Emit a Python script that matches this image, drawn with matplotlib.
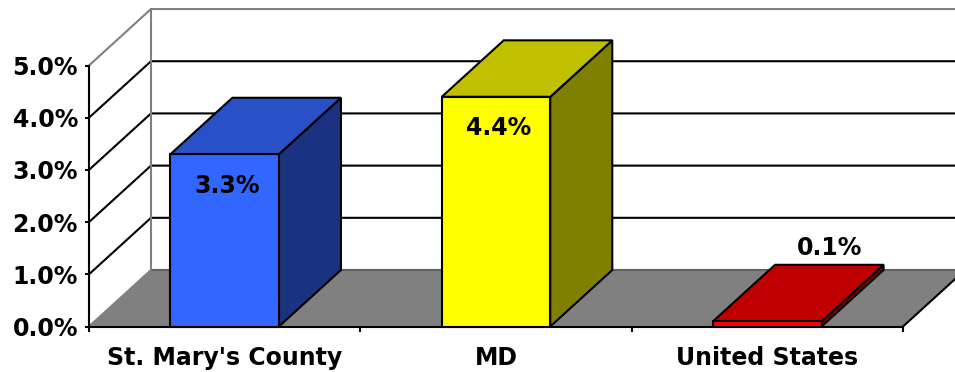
import matplotlib
matplotlib.use("Agg")
import matplotlib.pyplot as plt
from matplotlib.patches import Polygon

categories = ["St. Mary's County", "MD", "United States"]
values = [3.3, 4.4, 0.1]
value_labels = ["3.3%", "4.4%", "0.1%"]
y_ticks = [0, 1, 2, 3, 4, 5]

front_colors = ['#3366FF', '#FFFF00', '#FF0000']
top_colors = ['#2A50C8', '#C0C000', '#C00000']
side_colors = ['#1A3380', '#808000', '#800000']

# depth of the 3-D box, in category units (x) and percent units (y)
DX, DY = 0.2285, 1.082
HALF = 0.2

plt.rcParams['font.family'] = 'DejaVu Sans'
plt.rcParams['font.weight'] = 'bold'

fig = plt.figure(figsize=(9.55, 3.72), dpi=100)
ax = fig.add_axes([89 / 955, 45.5 / 372, 814 / 955, 261 / 372])
ax.set_xlim(0, len(categories))
ax.set_ylim(0, 5)
ax.patch.set_visible(False)

n = len(categories)

# floor
ax.add_patch(Polygon([(0, 0), (n, 0), (n + DX, DY), (DX, DY)], closed=True,
                     facecolor='#808080', edgecolor='none', zorder=0.5, clip_on=False))
ax.plot([DX, n + DX], [DY, DY], color='#606060', lw=1.5, zorder=0.6, clip_on=False)
ax.plot([0, DX], [0, DY], color='#808080', lw=1.5, zorder=0.6, clip_on=False)
ax.plot([n, n + DX], [0, DY], color='black', lw=1.5, zorder=0.6, clip_on=False)

# gridlines on side and back walls
for k in y_ticks[1:-1]:
    ax.plot([0, DX, n + DX], [k, k + DY, k + DY], color='black', lw=1.5,
            zorder=0.7, clip_on=False)
top = y_ticks[-1]
ax.plot([0, DX, n + DX], [top, top + DY, top + DY], color='#808080', lw=1.5,
        zorder=0.7, clip_on=False)
ax.plot([DX, DX], [DY, top + DY], color='#808080', lw=1.5, zorder=0.7, clip_on=False)

# bars
for i, v in enumerate(values):
    c = i + 0.5
    l, r = c - HALF, c + HALF
    kw = dict(closed=True, edgecolor='black', lw=1.5, joinstyle='miter',
              zorder=3, clip_on=False)
    ax.add_patch(Polygon([(r, 0), (r + DX, DY), (r + DX, v + DY), (r, v)],
                         facecolor=side_colors[i], **kw))
    ax.add_patch(Polygon([(l, v), (r, v), (r + DX, v + DY), (l + DX, v + DY)],
                         facecolor=top_colors[i], **kw))
    ax.add_patch(Polygon([(l, 0), (r, 0), (r, v), (l, v)],
                         facecolor=front_colors[i], **kw))
    if v > 1:
        ax.text(c + 0.01, v - 0.6, value_labels[i], ha='center', va='center',
                fontsize=17, fontweight='bold', zorder=4)
    else:
        ax.text(c + DX, v + DY + 0.32, value_labels[i], ha='center', va='center',
                fontsize=17, fontweight='bold', zorder=4)

# axes
for side in ['top', 'right']:
    ax.spines[side].set_visible(False)
for side in ['left', 'bottom']:
    ax.spines[side].set_linewidth(1.5)
    ax.spines[side].set_zorder(2.5)

ax.set_yticks(y_ticks)
ax.set_yticklabels([f"{t:.1f}%" for t in y_ticks])
ax.tick_params(axis='y', direction='out', length=3, width=1.5, pad=5, labelsize=17)

ax.set_xticks([i + 0.5 for i in range(n)])
ax.set_xticklabels(categories)
ax.set_xticks(range(n + 1), minor=True)
ax.tick_params(axis='x', which='major', length=0, pad=14, labelsize=17)
ax.tick_params(axis='x', which='minor', direction='out', length=3.5, width=1.5)

fig.savefig('out.png', dpi=100)
